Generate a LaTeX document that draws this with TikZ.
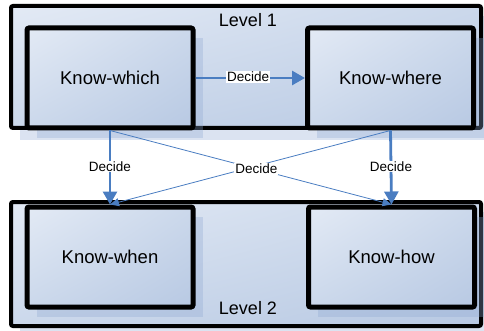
\documentclass[tikz,border=0pt]{standalone}
\usepackage{fontspec}
\setmainfont{Liberation Sans}
\usetikzlibrary{arrows.meta,shadings}
\definecolor{arrowblue}{HTML}{4A7DC1}
\definecolor{shadowc}{HTML}{8FA8D2}
\definecolor{boxlight}{HTML}{E3EAF5}
\definecolor{boxmid}{HTML}{CBD8EB}
\definecolor{boxdark}{HTML}{B8C9E3}
\tikzset{
  outerbox/.style={draw=black, line width=4pt, rounded corners=2pt, inner sep=0pt,
    upper left=boxlight, upper right=boxmid, lower left=boxmid, lower right=boxdark},
  innerbox/.style={draw=black, line width=5pt, rounded corners=2pt, inner sep=0pt,
    minimum width=166pt, minimum height=100pt, font=\fontsize{18.5}{22}\selectfont,
    upper left=boxlight, upper right=boxmid, lower left=boxmid, lower right=boxdark},
  shadowbox/.style={fill=shadowc, opacity=0.32},
  levellabel/.style={font=\fontsize{18}{21}\selectfont, inner sep=0pt},
  decidelabel/.style={fill=white, inner sep=1pt, font=\fontsize{13.5}{16}\selectfont},
  thickarrow/.style={draw=arrowblue, line width=2.8pt, -{Triangle[length=13pt,width=14pt]}},
  thinarrow/.style={draw=arrowblue, line width=0.8pt, -{Triangle[length=9pt,width=8pt]}}
}
\begin{document}
\begin{tikzpicture}[x=1pt,y=-1pt]
\useasboundingbox (0,0) rectangle (484,331);
% Level 1
\fill[shadowbox] (20,16) rectangle (484,140);
\node[outerbox, minimum width=470pt, minimum height=122pt] (lvl1) at (246,67) {};
\node[levellabel] (lvl1label) at (248,20) {Level 1};
\fill[shadowbox] (37,38) rectangle (203,138);
\fill[shadowbox] (317,38) rectangle (484,138);
\node[innerbox] (kwhich) at (110,78) {Know-which};
\node[innerbox] (kwhere) at (390.5,78) {Know-where};
% Level 2
\fill[shadowbox] (20,212) rectangle (484,331);
\node[outerbox, minimum width=470pt, minimum height=124pt] (lvl2) at (246,264) {};
\fill[shadowbox] (37,217) rectangle (203,317);
\fill[shadowbox] (318,217) rectangle (484,317);
\node[innerbox] (kwhen) at (110,257) {Know-when};
\node[innerbox] (khow) at (391.5,257) {Know-how};
\node[levellabel] (lvl2label) at (248,308) {Level 2};
% connectors
\draw[thinarrow] (kwhich.south) -- (khow.north) node[decidelabel, pos=0.52] (dcross) {Decide};
\draw[thinarrow] (kwhere.south) -- (kwhen.north);
\node[decidelabel] (dcross2) at (dcross) {Decide};
\draw[thickarrow] (kwhich.east) -- (kwhere.west) node[decidelabel, midway, xshift=-2pt, yshift=1pt] (dh) {Decide};
\draw[thickarrow] (kwhich.south) -- (kwhen.north) node[decidelabel, pos=0.5, yshift=1pt] (dl) {Decide};
\draw[thickarrow] (kwhere.south) -- (khow.north) node[decidelabel, pos=0.5, yshift=1pt] (dr) {Decide};
\end{tikzpicture}
\end{document}
